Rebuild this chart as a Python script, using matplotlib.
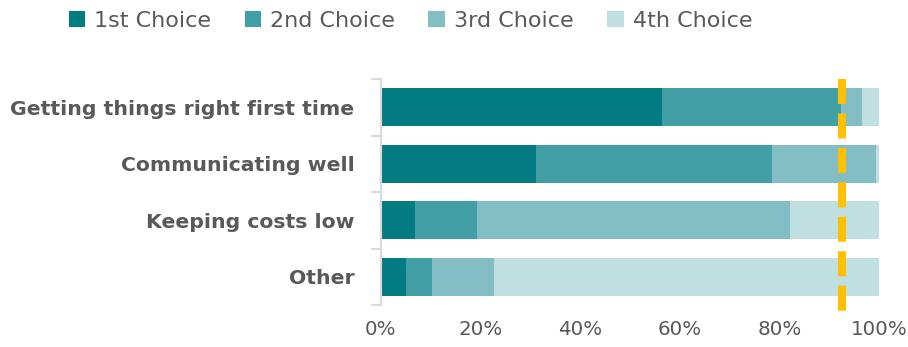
import numpy as np
import matplotlib
matplotlib.use("Agg")
import matplotlib.pyplot as plt
from matplotlib.ticker import FuncFormatter

# Data (percent of respondents)
categories = ["Getting things right first time", "Communicating well",
              "Keeping costs low", "Other"]
series_names = ["1st Choice", "2nd Choice", "3rd Choice", "4th Choice"]
first = [56.5, 31.2, 6.9, 5.1]
second = [35.9, 47.3, 12.3, 5.1]
third = [4.2, 20.9, 62.9, 12.4]
fourth = [3.4, 0.6, 17.9, 77.4]
target = 92.5
x_ticks = [0, 20, 40, 60, 80, 100]

colors = ["#027C82", "#429FA5", "#82BEC4", "#C0DFE0"]
textGray = "#595959"

plt.rcParams["font.family"] = ["DejaVu Sans"]
plt.rcParams["lines.scale_dashes"] = False

fig = plt.figure(figsize=(9.08, 3.47), dpi=100)
ax = fig.add_axes([0.4196, 0.121, 0.5485, 0.651])

y = np.arange(len(categories))
left = np.zeros(len(categories))
for vals, name, col in zip([first, second, third, fourth], series_names, colors):
    ax.barh(y, vals, left=left, height=0.67, color=col, label=name, linewidth=0)
    left += np.array(vals)

# dashed target line, drawn top to bottom
ax.plot([target, target], [-0.5, 3.6], color="#FFC000", linewidth=5.8,
        dashes=(18, 6.8), solid_capstyle="butt", dash_capstyle="butt",
        clip_on=False, zorder=5)

ax.set_xlim(0, 100)
ax.set_ylim(3.5, -0.5)
ax.set_xticks(x_ticks)
ax.xaxis.set_major_formatter(FuncFormatter(lambda v, p: "{:.0f}%".format(v)))
ax.tick_params(axis="x", length=0, labelsize=14.3, labelcolor=textGray, pad=11)

# category boundaries as ticks, labels at centres
ax.set_yticks(np.arange(-0.5, len(categories), 1.0))
ax.set_yticklabels([])
ax.set_yticks(y, minor=True)
ax.set_yticklabels(categories, minor=True, fontsize=14.7, fontweight="bold", color=textGray)
ax.tick_params(axis="y", which="major", length=7, width=1.5, color="#D9D9D9")
ax.tick_params(axis="y", which="minor", length=0, pad=19)

for s in ["top", "right", "bottom"]:
    ax.spines[s].set_visible(False)
ax.spines["left"].set_color("#D9D9D9")
ax.spines["left"].set_linewidth(1.5)

leg = fig.legend(loc="center", bbox_to_anchor=(0.452, 0.94), ncol=4, frameon=False,
                 fontsize=16, handlelength=0.75, handleheight=0.75, handletextpad=0.4,
                 columnspacing=1.5)
for t in leg.get_texts():
    t.set_color(textGray)

fig.savefig("out.png", dpi=100)
